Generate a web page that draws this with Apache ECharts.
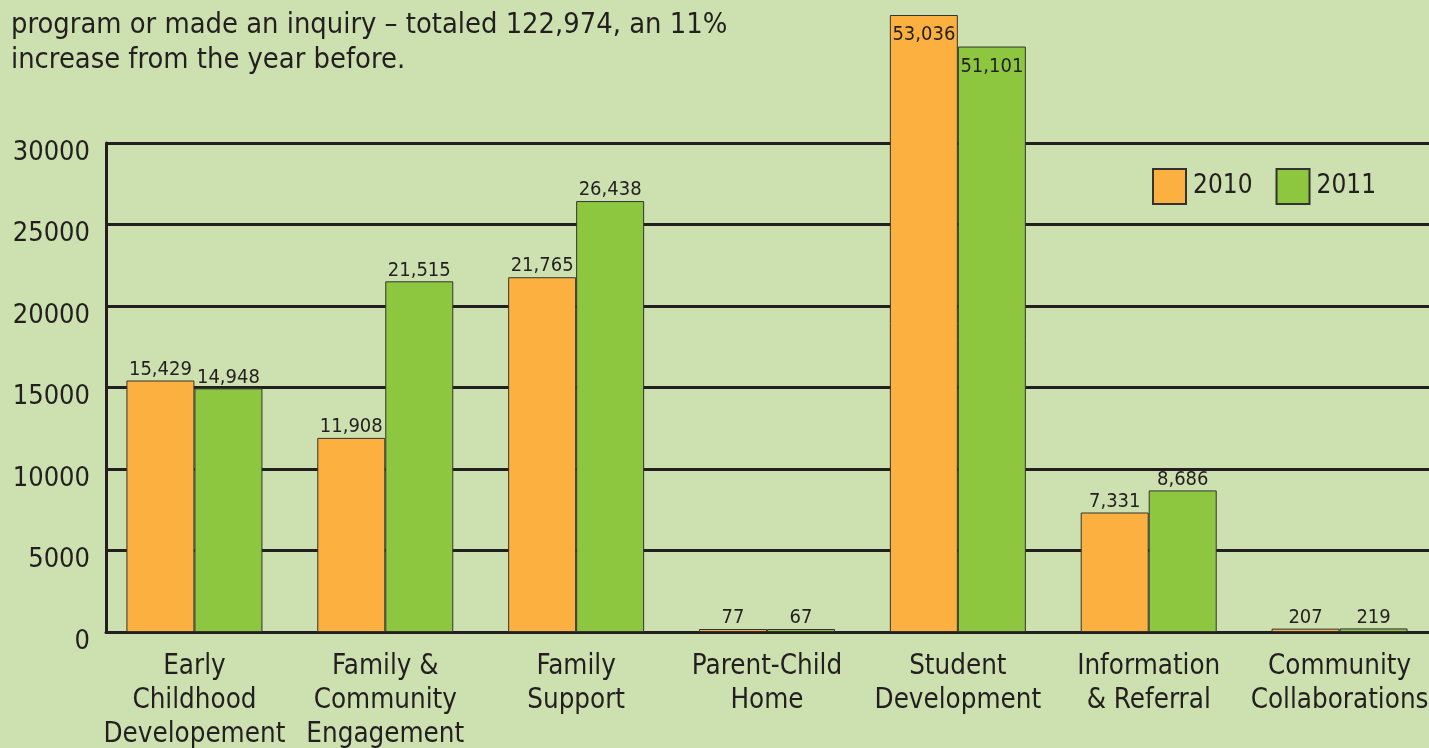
<!DOCTYPE html>
<html>
<head>
<meta charset="utf-8">
<title>Program participants 2010 / 2011</title>
<script src="https://cdn.jsdelivr.net/npm/echarts@6.0.0/dist/echarts.min.js"></script>
<style>
  html, body { margin: 0; padding: 0; background: #cde0af; }
  #main { width: 1429px; height: 748px; }
</style>
</head>
<body>
<div id="main"></div>
<script>
// programs on the x axis
const programs = [
  'Early\nChildhood\nDevelopement',
  'Family &\nCommunity\nEngagement',
  'Family\nSupport',
  'Parent-Child\nHome',
  'Student\nDevelopment',
  'Information\n& Referral',
  'Community\nCollaborations'
]
const years = ['2010', '2011']
const data2010 = [15429, 11908, 21765, 77, 53036, 7331, 207]
const data2011 = [14948, 21515, 26438, 67, 51101, 8686, 219]
// ticks of the left axis
const yTicks = [0, 5000, 10000, 15000, 20000, 25000, 30000]
// the two Student Development bars run past the axis, the original cuts them
const yBreak = { start: 31000, end: 46183 }

const introText = 'program or made an inquiry \u2013 totaled 122,974, an 11%\nincrease from the year before.'

const font = "'DejaVu Sans Condensed', 'DejaVu Sans', sans-serif"
const ink = '#231f20'
const yTop = yTicks[yTicks.length - 1]

// bars above the top tick get their label inside
function barData (list) {
  return list.map(v => {
    if (v > yTop) {
      return { value: v, label: { position: 'insideTop', distance: 10 } }
    }
    return v
  })
}

function barSeries (name, list, color) {
  return {
    name: name,
    type: 'bar',
    xAxisIndex: 1,
    yAxisIndex: 1,
    barWidth: 68,
    barGap: '0%',
    barMinHeight: 3,
    itemStyle: { color: color, borderColor: '#333333', borderWidth: 1 },
    label: {
      show: true,
      position: 'top',
      distance: 1,
      color: ink,
      fontFamily: font,
      fontSize: 20,
      formatter: p => p.value.toLocaleString('en-US')
    },
    data: barData(list)
  }
}

const chart = echarts.init(document.getElementById('main'))
chart.setOption({
  backgroundColor: '#cde0af',
  animation: false,
  title: {
    text: introText,
    left: 6,
    top: 3,
    textStyle: { color: ink, fontFamily: font, fontSize: 28.8, fontWeight: 'normal', lineHeight: 35 }
  },
  legend: {
    data: years,
    left: 1147,
    top: 163,
    icon: 'rect',
    itemWidth: 33,
    itemHeight: 35,
    itemGap: 23,
    textStyle: { color: ink, fontFamily: font, fontSize: 26, padding: [0, 0, 0, 2] }
  },
  // grid 0 carries the visible axes, grid 1 the bars
  grid: [
    { left: 106, right: -12, top: 143, bottom: 116, outerBoundsMode: 'none' },
    { left: 99, right: -6, top: 15, bottom: 116, outerBoundsMode: 'none' }
  ],
  xAxis: [
    {
      type: 'category',
      gridIndex: 0,
      data: programs,
      axisLine: { lineStyle: { color: ink, width: 3 } },
      axisTick: { show: false },
      axisLabel: { show: false }
    },
    {
      type: 'category',
      gridIndex: 1,
      data: programs,
      axisLine: { show: false },
      axisTick: { show: false },
      axisLabel: {
        interval: 0,
        margin: 18,
        color: ink,
        fontFamily: font,
        fontSize: 27.5,
        lineHeight: 34
      }
    }
  ],
  yAxis: [
    {
      type: 'value',
      gridIndex: 0,
      min: yTicks[0],
      max: yTop,
      interval: yTicks[1] - yTicks[0],
      axisLine: { show: true, lineStyle: { color: ink, width: 3 } },
      axisTick: { show: false },
      splitLine: { lineStyle: { color: ink, width: 3 } },
      axisLabel: {
        margin: 16,
        verticalAlign: 'top',
        lineHeight: 19,
        color: ink,
        fontFamily: font,
        fontSize: 27,
        formatter: v => String(v)
      }
    },
    {
      type: 'value',
      gridIndex: 1,
      min: 0,
      max: 'dataMax',
      show: false,
      splitLine: { show: false },
      breaks: [{ start: yBreak.start, end: yBreak.end, gap: 0 }],
      breakArea: { show: false }
    }
  ],
  series: [
    barSeries(years[0], data2010, '#fbb040'),
    barSeries(years[1], data2011, '#8dc63f')
  ]
})
</script>
</body>
</html>
